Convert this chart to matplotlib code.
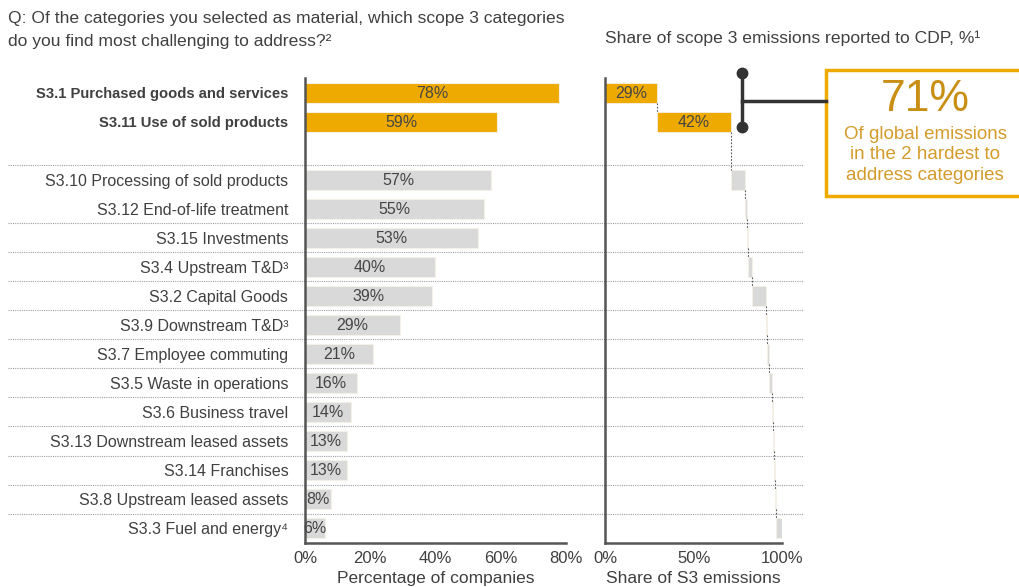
import matplotlib
matplotlib.use("Agg")
import matplotlib.pyplot as plt
import matplotlib.transforms as mtransforms
from matplotlib.lines import Line2D
from matplotlib.patches import Rectangle

# data
categories = [
    "S3.1 Purchased goods and services",
    "S3.11 Use of sold products",
    "S3.10 Processing of sold products",
    "S3.12 End-of-life treatment",
    "S3.15 Investments",
    "S3.4 Upstream T&D\u00b3",
    "S3.2 Capital Goods",
    "S3.9 Downstream T&D\u00b3",
    "S3.7 Employee commuting",
    "S3.5 Waste in operations",
    "S3.6 Business travel",
    "S3.13 Downstream leased assets",
    "S3.14 Franchises",
    "S3.8 Upstream leased assets",
    "S3.3 Fuel and energy\u2074",
]
pct_companies = [78, 59, 57, 55, 53, 40, 39, 29, 21, 16, 14, 13, 13, 8, 6]
share_emissions = [29, 42, 8, 1, 0.5, 2.5, 8, 0.5, 1, 2, 0.5, 0.5, 0.5, 0.5, 3.5]
highlight = [True, True] + [False] * 13
left_ticks = [0, 20, 40, 60, 80]
right_ticks = [0, 50, 100]

GOLD = "#EFAA00"
GREY = "#D9D9D9"
TXT = "#404040"
plt.rcParams["font.family"] = ["Liberation Sans", "DejaVu Sans"]

# row slots: two highlighted rows, one empty slot, then the rest
ypos = [0, 1] + list(range(3, 3 + len(categories) - 2))
colors = [GOLD if h else GREY for h in highlight]

fig = plt.figure(figsize=(10.19, 5.87), dpi=100)
ax1 = fig.add_axes([0.2993, 0.0758, 0.2561, 0.7905])
ax2 = fig.add_axes([0.5942, 0.0758, 0.1732, 0.7905])

# left panel: percentage of companies
ax1.barh(ypos, pct_companies, height=0.66, color=colors, edgecolor="#F5F0E6", linewidth=0.8)
for y, v in zip(ypos, pct_companies):
    ax1.text(v / 2, y + 0.03, f"{v}%", ha="center", va="center", fontsize=11.5,
             color="#454545")
ax1.set_xlim(0, 80)
ax1.set_xticks(left_ticks)
ax1.set_xticklabels([f"{t}%" for t in left_ticks])
ax1.set_yticks(ypos)
ax1.set_yticklabels(categories, fontsize=11.5, color=TXT)
for lab, h in zip(ax1.get_yticklabels(), highlight):
    if h:
        lab.set_fontweight("bold")
        lab.set_fontsize(10.6)
ax1.tick_params(axis="y", length=0, pad=12)
ax1.set_xlabel("Percentage of companies", fontsize=12.5, color=TXT, labelpad=4)

# right panel: waterfall of emission shares
starts = []
acc = 0
for v in share_emissions:
    starts.append(acc)
    acc += v
ax2.barh(ypos, share_emissions, left=starts, height=0.66, color=colors,
         edgecolor="#F5F0E6", linewidth=0.6)
for y, s, v, h in zip(ypos, starts, share_emissions, highlight):
    if h:
        ax2.text(s + v / 2, y + 0.03, f"{v}%", ha="center", va="center", fontsize=11.5,
                 color="#454545")
for i in range(len(ypos) - 1):
    x = starts[i] + share_emissions[i]
    ax2.plot([x, x], [ypos[i] + 0.33, ypos[i + 1] - 0.33], color="#555555",
             lw=0.8, ls=(0, (1.5, 1.5)))
ax2.set_xlim(0, 100)
ax2.set_xticks(right_ticks)
ax2.set_xticklabels([f"{t}%" for t in right_ticks])
ax2.set_yticks([])
ax2.set_xlabel("Share of S3 emissions", fontsize=12.5, color=TXT, labelpad=4)

for ax in (ax1, ax2):
    ax.set_ylim(ypos[-1] + 0.5, -0.5)
    for side in ("top", "right"):
        ax.spines[side].set_visible(False)
    for side in ("left", "bottom"):
        ax.spines[side].set_color("#555555")
        ax.spines[side].set_linewidth(1.8)
    ax.tick_params(axis="x", length=0, pad=6, labelsize=12, labelcolor=TXT)
    ax.set_facecolor("none")

# dotted row separators across the whole figure
trans = mtransforms.blended_transform_factory(fig.transFigure, ax1.transData)
for i in range(2, len(ypos) - 1):
    yl = (ypos[i] + ypos[i + 1]) / 2 if i > 2 else ypos[2] - 0.5
    fig.add_artist(Line2D([0.008, 0.788], [yl, yl], transform=trans,
                          color="#A0A0A0", lw=0.8, ls=(0, (1, 1)), zorder=0))

# bracket for the two hardest categories
top2 = share_emissions[0] + share_emissions[1]
bx = top2 + 6.5
ax2.plot([bx, bx], [-0.69, 1.17], color="#333333", lw=2.5, clip_on=False,
         marker="o", markersize=7.5, markevery=[0, 1])
tr2 = mtransforms.blended_transform_factory(fig.transFigure, ax2.transData)
bx_fig = fig.transFigure.inverted().transform(ax2.transData.transform((bx, 0)))[0]
fig.add_artist(Line2D([bx_fig, 0.811], [0.28, 0.28], transform=tr2,
                      color="#333333", lw=2.5))

# callout box
fig.add_artist(Rectangle((0.811, 0.666), 0.25, 0.215, transform=fig.transFigure,
                         facecolor="white", edgecolor=GOLD, lw=2.5))
fig.text(0.908, 0.83, f"{top2}%", ha="center", va="center", fontsize=32,
         color="#C98F14")
fig.text(0.908, 0.736, "Of global emissions\nin the 2 hardest to\naddress categories",
         ha="center", va="center", fontsize=13.5, color="#D49B2A", linespacing=1.3)

# titles
fig.text(0.008, 0.9693, "Q: Of the categories you selected as material, which scope 3 categories",
         ha="left", va="center", fontsize=12.6, color=TXT)
fig.text(0.008, 0.930, "do you find most challenging to address?\u00b2",
         ha="left", va="center", fontsize=12.6, color=TXT)
fig.text(0.5942, 0.935, "Share of scope 3 emissions reported to CDP, %\u00b9", ha="left",
         va="center", fontsize=12.6, color=TXT)

fig.savefig("out.png", dpi=100)
